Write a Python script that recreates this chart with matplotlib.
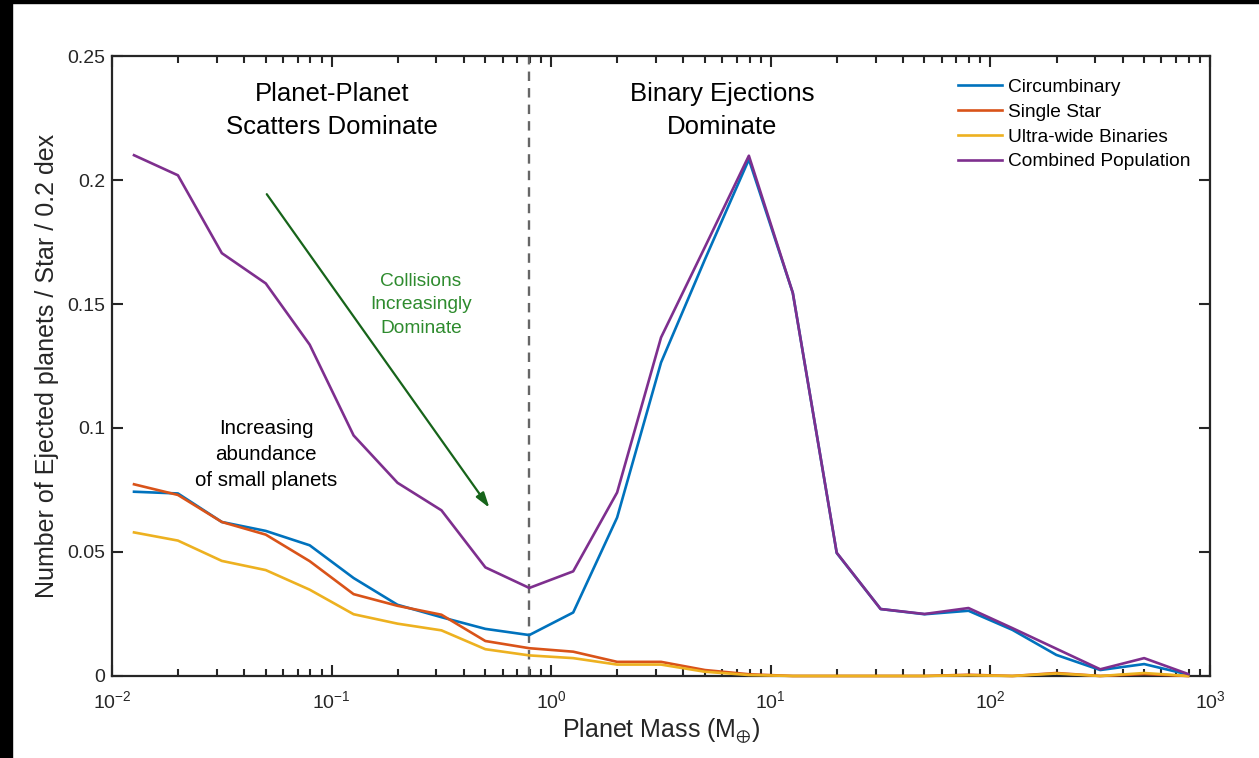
import matplotlib
matplotlib.use('Agg')
import matplotlib.pyplot as plt
import numpy as np

plt.rcParams['font.family'] = ['Liberation Sans', 'DejaVu Sans']
plt.rcParams['mathtext.default'] = 'regular'

# bin centres, log10(M / M_earth), 0.2 dex bins
log_mass = [-1.9, -1.7, -1.5, -1.3, -1.1, -0.9, -0.7, -0.5, -0.3, -0.1,
            0.1, 0.3, 0.5, 0.7, 0.9, 1.1, 1.3, 1.5, 1.7, 1.9,
            2.1, 2.3, 2.5, 2.7, 2.9]
mass = 10 ** np.array(log_mass)

circumbinary = [0.0743, 0.0736, 0.0621, 0.0585, 0.0527, 0.0395, 0.0287, 0.0237, 0.0190, 0.0165,
                0.0256, 0.0639, 0.1264, 0.1680, 0.2083, 0.1545, 0.0496, 0.0270, 0.0249, 0.0263,
                0.0186, 0.0085, 0.0024, 0.0048, 0.0006]
single_star = [0.0773, 0.0730, 0.0621, 0.0570, 0.0463, 0.0330, 0.0283, 0.0247, 0.0141, 0.0112,
               0.0098, 0.0057, 0.0057, 0.0024, 0.0007, 0.0, 0.0, 0.0, 0.0, 0.0005,
               0.0, 0.0012, 0.0, 0.0008, 0.0]
ultra_wide = [0.0579, 0.0546, 0.0464, 0.0427, 0.0348, 0.0249, 0.0211, 0.0184, 0.0108, 0.0083,
              0.0072, 0.0046, 0.0046, 0.0017, 0.0004, 0.0, 0.0, 0.0, 0.0, 0.0003,
              0.0, 0.0010, 0.0, 0.0012, 0.0]
combined = [0.2100, 0.2019, 0.1705, 0.1583, 0.1336, 0.0970, 0.0779, 0.0668, 0.0438, 0.0355,
            0.0422, 0.0740, 0.1365, 0.1730, 0.2098, 0.1545, 0.0497, 0.0270, 0.0250, 0.0274,
            0.0193, 0.0110, 0.0027, 0.0072, 0.0008]

labels = ['Circumbinary', 'Single Star', 'Ultra-wide Binaries', 'Combined Population']
colors = ['#0072BD', '#D95319', '#EDB120', '#7E2F8E']

axc = '#262626'

fig = plt.figure(figsize=(12.59, 7.58), dpi=100)
ax = fig.add_axes([0.089, 0.1082, 0.8721, 0.8179])

for y, lab, c in zip([circumbinary, single_star, ultra_wide, combined], labels, colors):
    ax.plot(mass, y, color=c, lw=1.9, label=lab, clip_on=False, zorder=3)

# boundary between the two regimes
ax.axvline(10 ** -0.1, color='#666666', lw=1.7, ls=(0, (4, 3)), zorder=2)

ax.set_xscale('log')
ax.set_xlim(1e-2, 1e3)
ax.set_ylim(0, 0.25)
ax.set_yticks([0, 0.05, 0.1, 0.15, 0.2, 0.25])
ax.set_yticklabels(['0', '0.05', '0.1', '0.15', '0.2', '0.25'])

for s in ax.spines.values():
    s.set_linewidth(1.6)
    s.set_color(axc)
ax.tick_params(which='both', direction='in', top=True, right=True, colors=axc,
               labelcolor=axc, labelsize=14, width=1.5)
ax.tick_params(which='major', length=8)
ax.tick_params(which='minor', length=5)
ax.tick_params(axis='x', which='both', pad=10)
ax.tick_params(axis='y', pad=5)

ax.set_xlabel(r'Planet Mass (M$_{\oplus}$)', fontsize=18, color=axc, labelpad=4)
ax.set_ylabel('Number of Ejected planets / Star / 0.2 dex', fontsize=18, color=axc, labelpad=6)

ax.text(0.1, 0.228, 'Planet-Planet\nScatters Dominate', ha='center', va='center',
        fontsize=18.5, color='black', linespacing=1.45)
ax.text(6.0, 0.228, 'Binary Ejections\nDominate', ha='center', va='center',
        fontsize=18.5, color='black', linespacing=1.45)
ax.text(0.255, 0.1496, 'Collisions\nIncreasingly\nDominate', ha='center', va='center',
        fontsize=13.8, color='#2e8b2e', linespacing=1.5)
ax.text(0.0502, 0.0893, 'Increasing\nabundance\nof small planets', ha='center', va='center',
        fontsize=14.8, color='black', linespacing=1.45)

ax.annotate('', xy=(0.532, 0.0669), xytext=(0.0498, 0.1952),
            arrowprops=dict(arrowstyle='-|>,head_length=0.9,head_width=0.28',
                            color='#17641a', lw=1.6))

leg = ax.legend(loc='upper right', frameon=False, fontsize=13.8, handlelength=2.3,
                handletextpad=0.3, labelspacing=0.38, borderaxespad=0.3,
                bbox_to_anchor=(0.994, 0.985))

fig.patches.append(plt.Rectangle((0, 0), 12 / 1259, 1, transform=fig.transFigure,
                                 color='black', zorder=10))
fig.patches.append(plt.Rectangle((0, 1 - 3 / 758), 1, 3 / 758, transform=fig.transFigure,
                                 color='black', zorder=10))

fig.savefig('out.png', dpi=100)
